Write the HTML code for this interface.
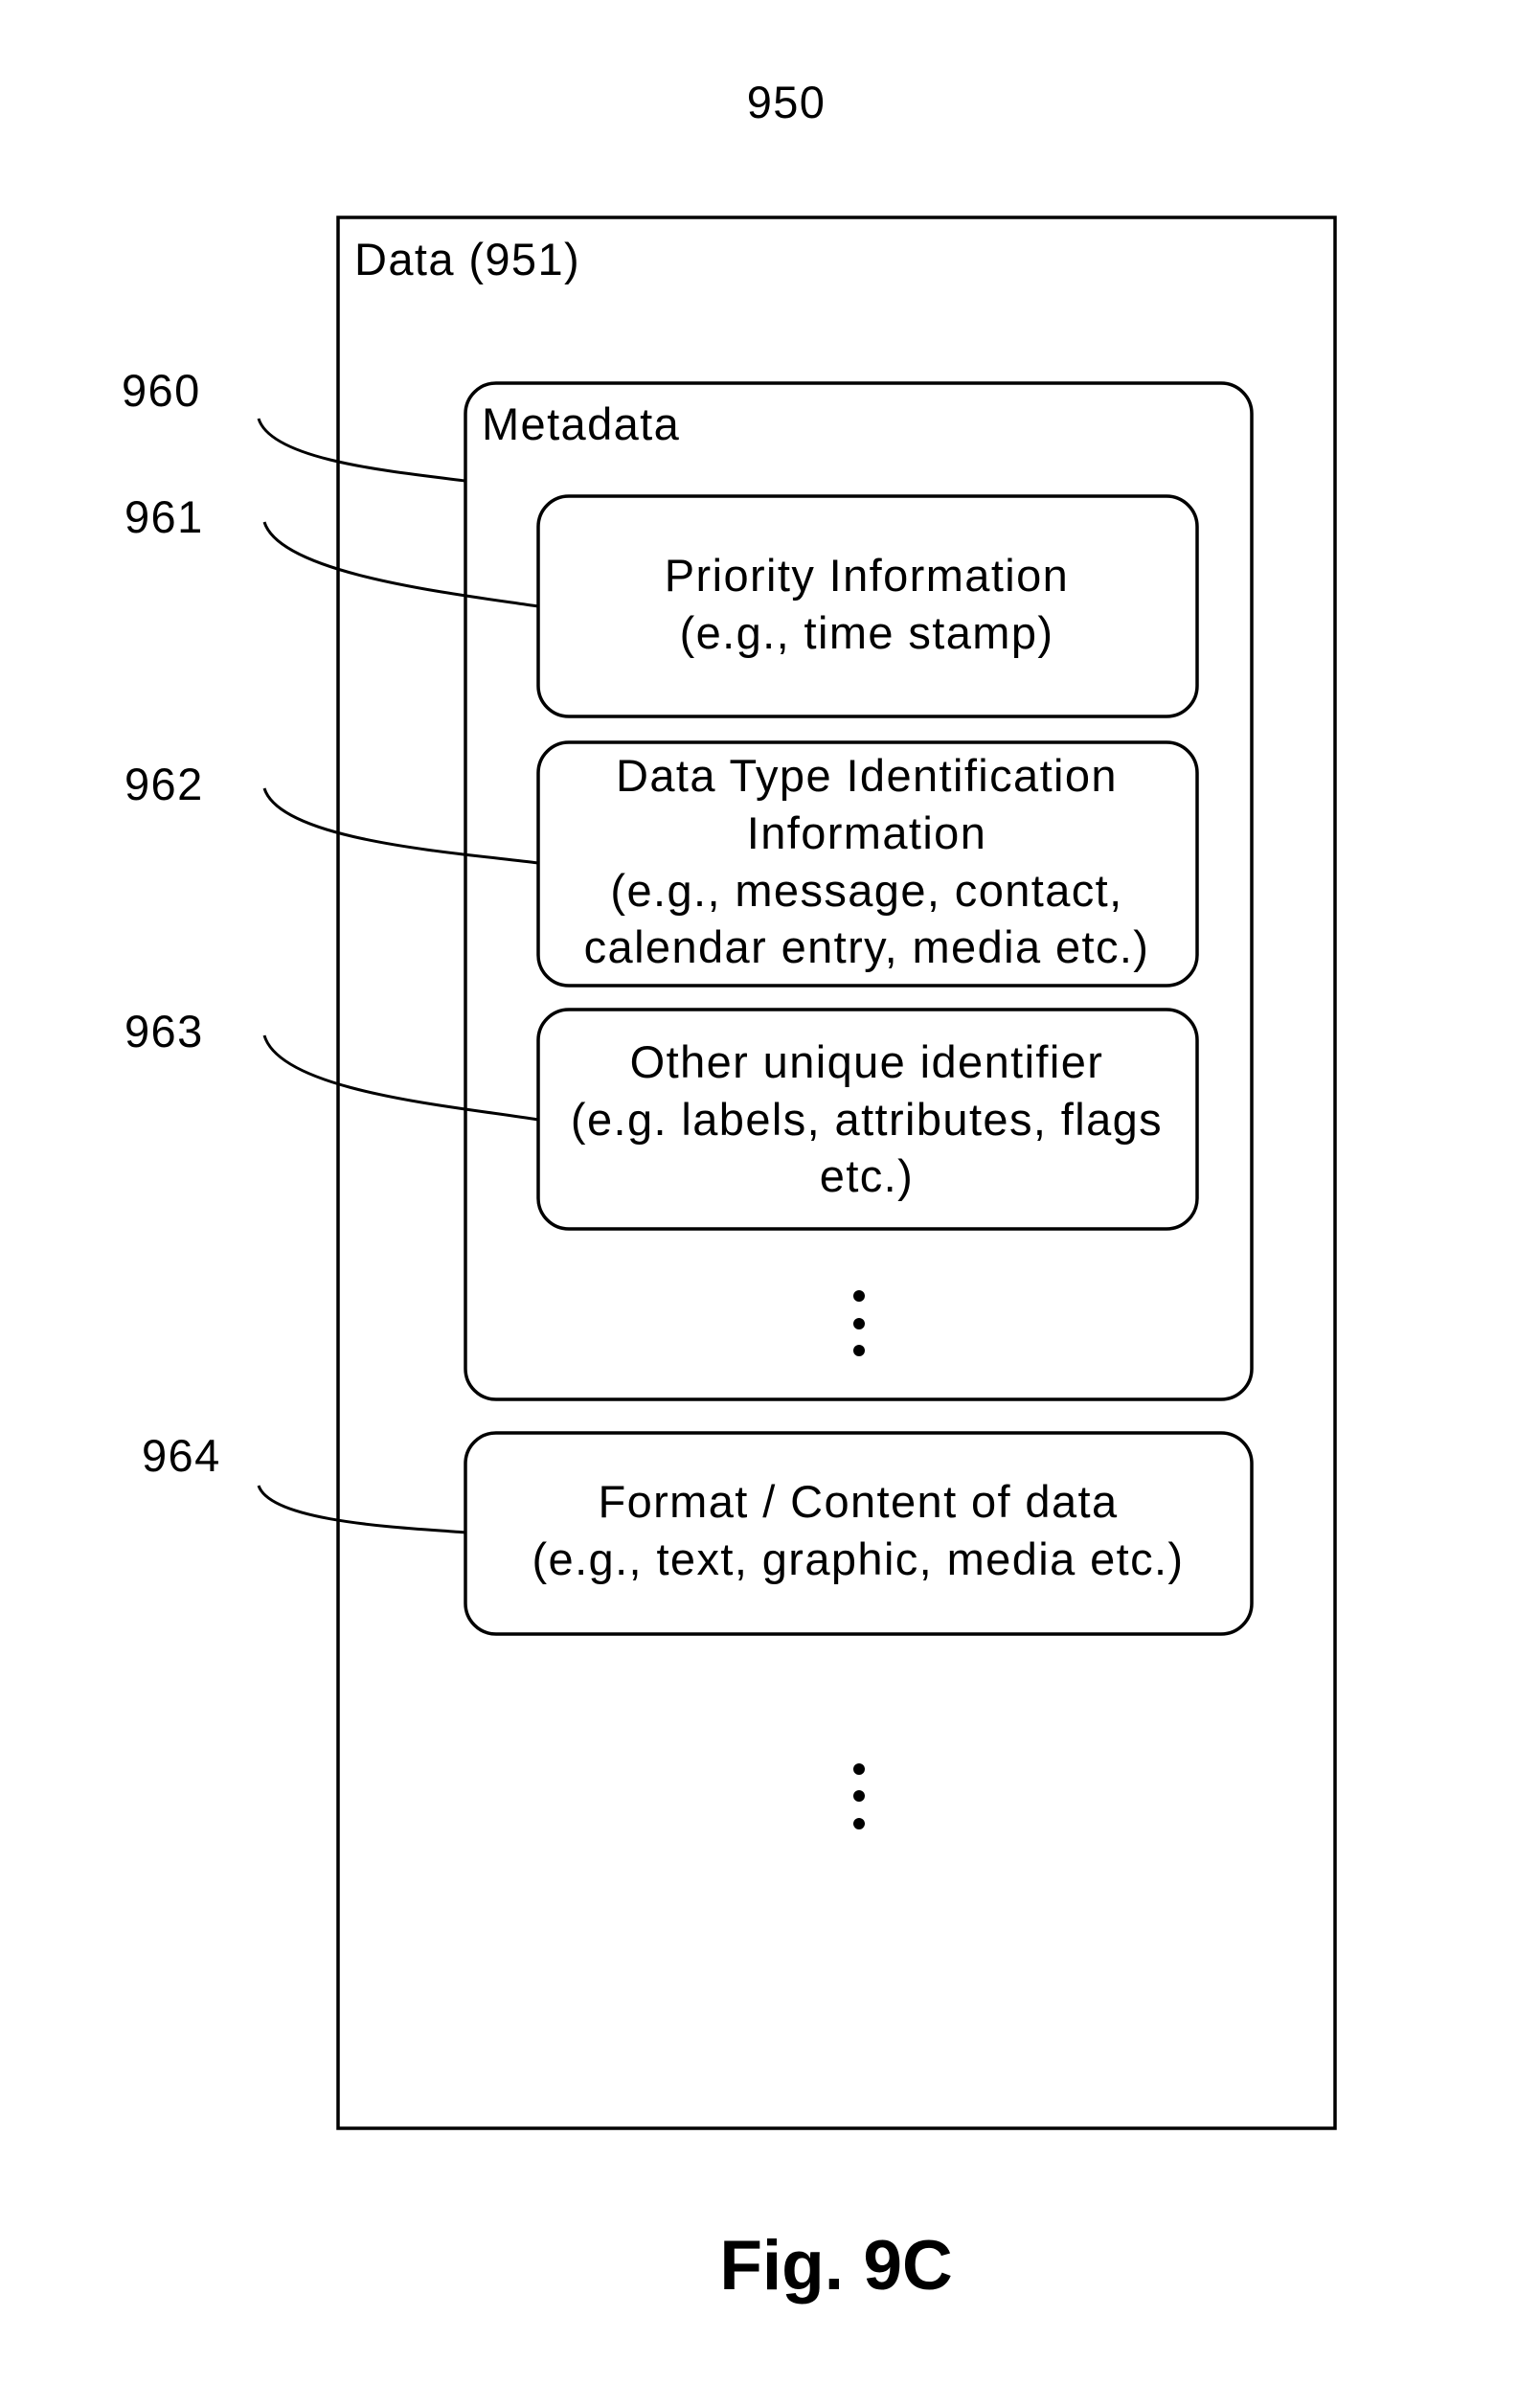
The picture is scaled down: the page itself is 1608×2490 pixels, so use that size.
<!DOCTYPE html>
<html><head><style>
body{margin:0;background:#fff;}
svg{display:block}
text{font-family:"Liberation Sans",Arial,sans-serif;fill:#000;}
.t{letter-spacing:1.4px}
</style></head><body>
<svg width="1608" height="2490" viewBox="0 0 1608 2490" xmlns="http://www.w3.org/2000/svg">
<g font-size="47" class="t">
<text x="821" y="123" text-anchor="middle">950</text>
<rect x="353" y="227" width="1041" height="1995" fill="none" stroke="#000" stroke-width="3.5"/>
<text x="370" y="287">Data (951)</text>
<rect x="486" y="400" width="821" height="1061" rx="32" fill="none" stroke="#000" stroke-width="3.5"/>
<text x="503" y="459">Metadata</text>
<rect x="562" y="518" width="688" height="230" rx="32" fill="none" stroke="#000" stroke-width="3.5"/>
<text x="905" y="617" text-anchor="middle">Priority Information</text>
<text x="905" y="677" text-anchor="middle">(e.g., time stamp)</text>
<rect x="562" y="775" width="688" height="254" rx="32" fill="none" stroke="#000" stroke-width="3.5"/>
<text x="905" y="826" text-anchor="middle">Data Type Identification</text>
<text x="905" y="886" text-anchor="middle">Information</text>
<text x="905" y="946" text-anchor="middle">(e.g., message, contact,</text>
<text x="905" y="1005" text-anchor="middle">calendar entry, media etc.)</text>
<rect x="562" y="1054" width="688" height="229" rx="32" fill="none" stroke="#000" stroke-width="3.5"/>
<text x="905" y="1125" text-anchor="middle">Other unique identifier</text>
<text x="905" y="1185" text-anchor="middle">(e.g. labels, attributes, flags</text>
<text x="905" y="1244" text-anchor="middle">etc.)</text>
<circle cx="897" cy="1353" r="6"/><circle cx="897" cy="1382" r="6"/><circle cx="897" cy="1410" r="6"/>
<rect x="486" y="1496" width="821" height="210" rx="32" fill="none" stroke="#000" stroke-width="3.5"/>
<text x="896" y="1584" text-anchor="middle">Format / Content  of data</text>
<text x="896" y="1644" text-anchor="middle">(e.g., text, graphic, media etc.)</text>
<circle cx="897" cy="1847" r="6"/><circle cx="897" cy="1875" r="6"/><circle cx="897" cy="1904" r="6"/>
<text x="127" y="424">960</text>
<text x="130" y="556">961</text>
<text x="130" y="835">962</text>
<text x="130" y="1093">963</text>
<text x="148" y="1536">964</text>
</g>
<g fill="none" stroke="#000" stroke-width="3">
<path d="M270 437 C283 480 405 492 486 502"/>
<path d="M276 545 C293 600 475 620 562 633"/>
<path d="M276 823 C293 878 475 890 562 901"/>
<path d="M276 1081 C293 1140 475 1155 562 1169"/>
<path d="M270 1551 C283 1590 425 1595 486 1600"/>
</g>
<text x="873" y="2390" text-anchor="middle" font-size="73" font-weight="bold">Fig. 9C</text>
</svg>
</body></html>
